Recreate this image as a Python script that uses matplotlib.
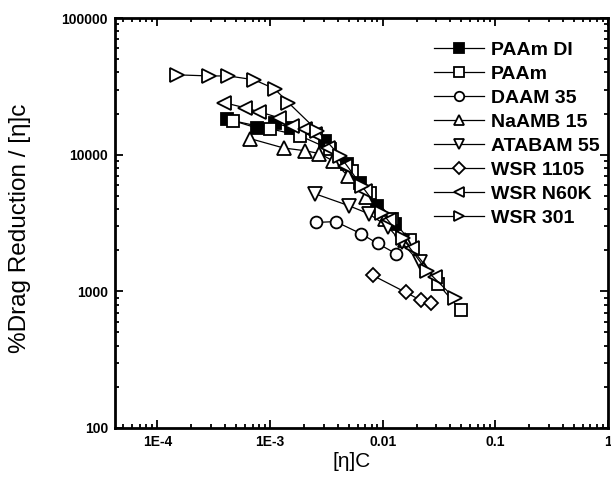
import numpy as np
import matplotlib.pyplot as plt
from matplotlib.ticker import FixedLocator, FixedFormatter, LogLocator, NullFormatter

plt.rcParams['font.family'] = ['Liberation Sans', 'DejaVu Sans']

# data (x = [eta]C, y = %DR / [eta]c)
paam_di_x = [4.19e-4, 7.6e-4, 1.1e-3, 1.55e-3, 3.05e-3, 4.8e-3, 6.25e-3, 8.85e-3, 1.28e-2]
paam_di_y = [18300, 15700, 17100, 15700, 12600, 8600, 6250, 4240, 3130]

paam_x = [4.74e-4, 1.0e-3, 1.83e-3, 3.38e-3, 5.3e-3, 7.66e-3, 1.2e-2, 1.74e-2, 3.08e-2, 4.93e-2]
paam_y = [17700, 15500, 13800, 11000, 7640, 5280, 3410, 2360, 1140, 727]

daam_x = [2.54e-3, 3.82e-3, 6.37e-3, 9.03e-3, 1.31e-2]
daam_y = [3190, 3240, 2650, 2240, 1890]

naamb_x = [6.7e-4, 1.32e-3, 2.03e-3, 2.75e-3, 3.6e-3, 4.89e-3, 7.06e-3, 1.04e-2, 1.57e-2]
naamb_y = [13100, 11200, 10700, 10200, 9040, 7030, 4930, 3410, 2360]

atabam_x = [2.49e-3, 4.99e-3, 7.51e-3, 1.11e-2, 1.48e-2, 2.13e-2]
atabam_y = [5190, 4240, 3700, 2980, 2280, 1630]

wsr1105_x = [8.15e-3, 1.6e-2, 2.18e-2, 2.67e-2]
wsr1105_y = [1310, 984, 860, 817]

n60k_x = [3.94e-4, 6.06e-4, 8.07e-4, 1.21e-3, 1.58e-3, 2.03e-3, 2.49e-3, 3.25e-3,
          4.6e-3, 6.92e-3, 1.15e-2, 1.81e-2, 2.9e-2]
n60k_y = [24000, 22000, 20600, 18600, 16300, 15500, 14200, 11200,
          8320, 5460, 3300, 2060, 1265]

wsr301_x = [1.51e-4, 2.9e-4, 4.28e-4, 7.28e-4, 1.1e-3, 1.46e-3, 2.64e-3, 4.15e-3,
            6.5e-3, 9.8e-3, 1.51e-2, 2.46e-2, 4.36e-2]
wsr301_y = [38400, 37700, 37700, 35300, 30300, 24000, 14960, 9840,
            5940, 3770, 2440, 1420, 890]

series = [
    ('PAAm DI', paam_di_x, paam_di_y, 's', 'black'),
    ('PAAm', paam_x, paam_y, 's', 'white'),
    ('DAAM 35', daam_x, daam_y, 'o', 'white'),
    ('NaAMB 15', naamb_x, naamb_y, '^', 'white'),
    ('ATABAM 55', atabam_x, atabam_y, 'v', 'white'),
    ('WSR 1105', wsr1105_x, wsr1105_y, 'D', 'white'),
    ('WSR N60K', n60k_x, n60k_y, '<', 'white'),
    ('WSR 301', wsr301_x, wsr301_y, '>', 'white'),
]

fig = plt.figure(figsize=(6.11, 4.88), dpi=100)
ax = fig.add_axes([0.188, 0.123, 0.807, 0.840])

for label, xs, ys, mk, fc in series:
    if mk in ('s', 'o'):
        ms = 8.5
    elif mk == 'D':
        ms = 7.5
    else:
        ms = 9.5
    ax.plot(xs, ys, color='black', lw=0.9, marker=mk, ms=ms,
            mfc=fc, mec='black', mew=1.3, label=label)

ax.set_xscale('log')
ax.set_yscale('log')
ax.set_xlim(4.2e-5, 1)
ax.set_ylim(100, 100000)

xt = [1e-4, 1e-3, 1e-2, 1e-1, 1]
ax.xaxis.set_major_locator(FixedLocator(xt))
ax.xaxis.set_major_formatter(FixedFormatter(['1E-4', '1E-3', '0.01', '0.1', '1']))
yt = [100, 1000, 10000, 100000]
ax.yaxis.set_major_locator(FixedLocator(yt))
ax.yaxis.set_major_formatter(FixedFormatter(['100', '1000', '10000', '100000']))
for a in (ax.xaxis, ax.yaxis):
    a.set_minor_locator(LogLocator(base=10, subs=np.arange(2, 10), numticks=20))
    a.set_minor_formatter(NullFormatter())

ax.tick_params(which='both', direction='in', top=True, right=True, width=1.3)
ax.tick_params(which='major', length=6, labelsize=10, pad=5)
ax.tick_params(which='minor', length=3)
for lab in ax.get_xticklabels() + ax.get_yticklabels():
    lab.set_fontweight('bold')
for sp in ax.spines.values():
    sp.set_linewidth(2)

ax.set_xlabel('[η]C', fontsize=15)
ax.xaxis.set_label_coords(0.481, -0.058)
ax.set_ylabel('%Drag Reduction / [η]c', fontsize=17.5)
ax.yaxis.set_label_coords(-0.17, 0.488)

leg = ax.legend(loc='upper right', bbox_to_anchor=(0.999, 0.962), frameon=False,
                prop={'weight': 'bold', 'size': 14}, handlelength=2.57,
                handletextpad=0.36, labelspacing=0.33, borderaxespad=0,
                markerscale=0.8)

fig.savefig('out.png', dpi=100)
